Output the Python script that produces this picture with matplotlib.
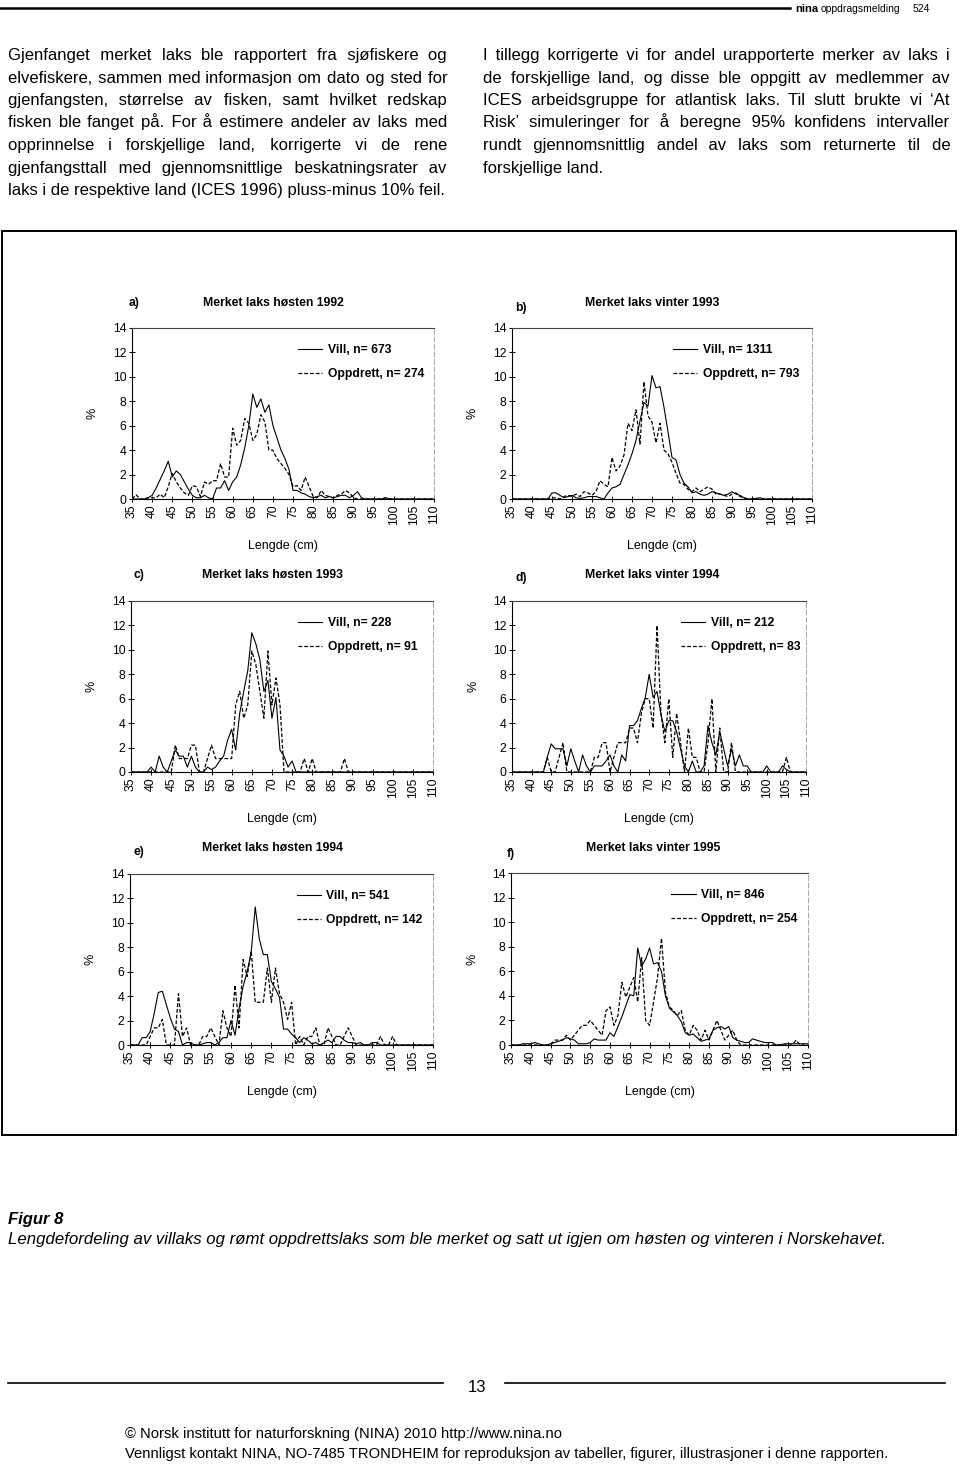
import matplotlib.pyplot as plt
import numpy as np
from matplotlib import font_manager
from matplotlib.ft2font import FT2Font
from matplotlib.patches import Rectangle
from matplotlib.lines import Line2D

plt.rcParams['font.family'] = 'Liberation Sans'

W, H = 960, 1465

# length classes (cm)
lengths = np.arange(35, 111)
xticks = np.arange(35, 111, 5)
yticks = np.arange(0, 15, 2)

# percentages per 1 cm class, rows = 35-44, 45-54, ... , 105-110
vill_a = [0, 0, 0, 0, 0.1, 0.3, 0.9, 1.6, 2.3, 3.1,
          1.8, 2.3, 2.0, 1.4, 0.8, 0.3, 0.1, 0.1, 0.3, 0.1,
          0.0, 0.9, 0.9, 1.5, 0.7, 1.4, 1.8, 2.8, 4.2, 6.0,
          8.6, 7.5, 8.2, 7.1, 7.7, 6.0, 5.0, 4.0, 3.3, 2.4,
          0.7, 0.7, 0.5, 0.4, 0.2, 0.1, 0.2, 0.3, 0.1, 0.2,
          0.1, 0.2, 0.3, 0.3, 0.1, 0.3, 0.6, 0.1, 0, 0,
          0, 0, 0, 0.1, 0, 0, 0, 0, 0, 0,
          0, 0, 0, 0, 0, 0]
oppd_a = [0, 0.35, 0, 0, 0.1, 0.1, 0.1, 0.4, 0.1, 1.0,
          2.1, 1.4, 0.9, 0.5, 0.3, 1.1, 1.0, 0.2, 1.4, 1.2,
          1.5, 1.5, 2.9, 1.8, 1.8, 5.8, 4.4, 4.8, 6.6, 6.2,
          4.8, 5.3, 6.9, 6.3, 4.0, 4.0, 3.3, 2.9, 2.5, 2.0,
          1.0, 1.1, 0.7, 1.8, 1.0, 0.2, 0.1, 0.7, 0.3, 0.2,
          0.1, 0.3, 0.4, 0.7, 0.5, 0.1, 0, 0, 0, 0,
          0, 0, 0, 0.1, 0, 0, 0, 0, 0, 0,
          0, 0, 0, 0, 0, 0]

vill_b = [0, 0, 0, 0, 0, 0, 0, 0, 0, 0,
          0.5, 0.5, 0.3, 0.1, 0.2, 0.3, 0.1, 0.05, 0.1, 0.2,
          0.2, 0.2, 0.1, 0.0, 0.5, 0.9, 1.0, 1.2, 2.0, 2.8,
          3.7, 4.8, 6.4, 7.9, 7.6, 10.1, 9.1, 9.2, 7.5, 5.5,
          3.4, 3.2, 2.0, 1.3, 1.0, 0.5, 0.6, 0.4, 0.3, 0.4,
          0.6, 0.5, 0.4, 0.3, 0.4, 0.6, 0.4, 0.3, 0.1, 0.0,
          0, 0.05, 0.1, 0, 0, 0, 0, 0, 0, 0,
          0, 0, 0, 0, 0, 0]
oppd_b = [0, 0, 0, 0, 0, 0, 0, 0, 0, 0,
          0.1, 0.1, 0, 0.2, 0.3, 0.2, 0.4, 0.2, 0.6, 0.5,
          0.3, 0.6, 1.5, 1.2, 1.0, 3.4, 2.3, 2.7, 3.6, 6.2,
          5.6, 7.3, 4.5, 9.6, 6.8, 6.3, 4.6, 6.2, 4.0, 3.7,
          3.0, 2.1, 1.3, 1.2, 0.8, 0.6, 0.9, 0.6, 0.8, 1.0,
          0.8, 0.4, 0.4, 0.3, 0.2, 0.4, 0.5, 0.2, 0.1, 0,
          0, 0, 0, 0, 0, 0, 0, 0, 0, 0,
          0, 0, 0, 0, 0, 0]

vill_c = [0, 0, 0, 0, 0, 0.4, 0, 1.3, 0.4, 0,
          0.9, 1.8, 1.3, 1.3, 0.4, 1.3, 0.4, 0, 0, 0.4,
          0.2, 0.4, 0.9, 1.3, 2.6, 3.5, 1.8, 4.8, 6.6, 8.3,
          11.4, 10.5, 9.2, 6.6, 7.5, 4.4, 6.1, 1.8, 1.3, 0.4,
          0.9, 0, 0, 0, 0, 0, 0, 0, 0, 0,
          0, 0, 0, 0, 0, 0, 0, 0, 0, 0,
          0, 0, 0, 0, 0, 0, 0, 0, 0, 0,
          0, 0, 0, 0, 0, 0]
oppd_c = [0, 0, 0, 0, 0, 0, 0, 0, 0, 0,
          0, 2.2, 1.1, 1.1, 1.1, 2.2, 2.2, 0, 0, 1.1,
          2.2, 1.1, 1.1, 1.1, 1.1, 1.1, 5.5, 6.6, 4.4, 5.5,
          9.9, 8.8, 6.6, 4.4, 9.9, 5.5, 7.7, 5.5, 0, 0,
          0, 0, 0, 1.1, 0, 1.1, 0, 0, 0, 0,
          0, 0, 0, 1.1, 0, 0, 0, 0, 0, 0,
          0, 0, 0, 0, 0, 0, 0, 0, 0, 0,
          0, 0, 0, 0, 0, 0]

vill_d = [0, 0, 0, 0, 0, 0, 0, 0, 0, 1.2,
          2.3, 1.9, 1.9, 1.9, 0.5, 1.9, 0.9, 0, 1.4, 0.5,
          0, 0.5, 0.5, 0.5, 0.9, 1.4, 0.5, 0, 1.4, 0.9,
          3.8, 3.8, 4.2, 5.2, 6.1, 8.0, 6.1, 6.6, 4.7, 3.3,
          4.2, 4.2, 3.3, 1.9, 0.5, 0, 0.9, 0, 0, 0.5,
          3.8, 2.4, 1.4, 3.3, 1.9, 0.5, 1.9, 0.5, 1.4, 0.5,
          0.5, 0, 0, 0, 0, 0.5, 0, 0, 0, 0.5,
          0.2, 0, 0, 0, 0, 0]
oppd_d = [0, 0, 0, 0, 0, 0, 0, 0, 0, 1.2,
          0, 0, 1.2, 2.4, 0, 0, 0, 0, 0, 0,
          0, 1.2, 1.2, 2.4, 2.4, 0, 1.2, 2.4, 2.4, 2.4,
          3.6, 3.6, 2.4, 4.8, 6.0, 6.0, 3.6, 12.0, 4.8, 2.4,
          6.0, 1.2, 4.8, 2.4, 0, 3.6, 1.2, 1.2, 0, 0,
          2.4, 6.0, 0, 3.6, 0, 0, 2.4, 0, 0, 0,
          0, 0, 0, 0, 0, 0, 0, 0, 0, 0,
          1.2, 0, 0, 0, 0, 0]

vill_e = [0, 0, 0, 0.6, 0.6, 1.1, 2.6, 4.3, 4.4, 3.3,
          2.2, 1.3, 1.1, 0, 0.2, 0.2, 0, 0, 0.1, 0.2,
          0.2, 0, 0.2, 0.6, 0.6, 2.0, 0.8, 3.0, 4.8, 6.0,
          7.6, 11.3, 8.7, 7.4, 7.4, 5.2, 4.6, 3.9, 1.3, 1.3,
          0.9, 0.6, 0.2, 0.6, 0.4, 0.1, 0.2, 0, 0.2, 0.4,
          0.2, 0.7, 0.7, 0.4, 0.2, 0.2, 0.1, 0.2, 0, 0,
          0.2, 0.2, 0, 0, 0, 0, 0, 0, 0, 0,
          0, 0, 0, 0, 0, 0]
oppd_e = [0, 0, 0, 0, 0, 0.7, 1.4, 1.4, 2.1, 0,
          0, 0, 4.2, 0.7, 1.4, 0, 0, 0, 0.7, 0.7,
          1.4, 0.7, 0, 2.8, 1.4, 0.7, 4.9, 1.4, 7.0, 5.6,
          7.7, 3.5, 3.5, 3.5, 6.3, 3.5, 6.3, 4.2, 3.5, 2.1,
          3.5, 0, 0.7, 0, 0.7, 0.7, 1.4, 0, 0, 1.4,
          0.7, 0, 0, 0.7, 1.4, 0.7, 0, 0, 0, 0,
          0, 0, 0.7, 0, 0, 0.7, 0, 0, 0, 0,
          0, 0, 0, 0, 0, 0]

vill_f = [0, 0, 0, 0.1, 0.1, 0.1, 0.2, 0.1, 0, 0,
          0.1, 0.2, 0.3, 0.4, 0.6, 0.5, 0.4, 0.1, 0.1, 0.1,
          0.2, 0.5, 0.4, 0.4, 0.4, 1.0, 0.7, 1.5, 2.3, 3.2,
          4.1, 4.0, 7.9, 6.4, 7.0, 7.9, 6.6, 6.7, 6.0, 4.0,
          3.0, 2.7, 2.4, 1.9, 1.0, 0.8, 0.9, 0.6, 0.3, 0.4,
          0.5, 1.2, 1.4, 1.5, 1.3, 1.5, 0.6, 0.4, 0.3, 0.2,
          0.2, 0.5, 0.4, 0.3, 0.2, 0.2, 0.2, 0, 0, 0.1,
          0.1, 0.1, 0.1, 0.1, 0.1, 0.1]
oppd_f = [0, 0, 0, 0, 0, 0, 0, 0, 0, 0,
          0, 0.4, 0.4, 0.4, 0.8, 0.4, 0.8, 1.2, 1.6, 1.6,
          2.0, 1.6, 1.2, 0.8, 2.8, 3.1, 1.6, 2.4, 5.1, 3.9,
          4.7, 5.5, 3.5, 7.1, 2.0, 1.6, 3.5, 5.5, 8.7, 4.3,
          3.1, 2.8, 2.4, 2.8, 1.2, 0.8, 1.6, 1.2, 0.4, 1.2,
          0.4, 1.2, 2.0, 1.2, 0.4, 0.8, 1.2, 0.4, 0, 0,
          0, 0, 0, 0, 0, 0, 0, 0, 0, 0,
          0, 0, 0.4, 0, 0, 0]

letters = ['a)', 'b)', 'c)', 'd)', 'e)', 'f)']
titles = ['Merket laks høsten 1992', 'Merket laks vinter 1993',
          'Merket laks høsten 1993', 'Merket laks vinter 1994',
          'Merket laks høsten 1994', 'Merket laks vinter 1995']
n_vill = [673, 1311, 228, 212, 541, 846]
n_oppd = [274, 793, 91, 83, 142, 254]
vill = [vill_a, vill_b, vill_c, vill_d, vill_e, vill_f]
oppd = [oppd_a, oppd_b, oppd_c, oppd_d, oppd_e, oppd_f]

left_text = [
    "Gjenfanget merket laks ble rapportert fra sjøfiskere og",
    "elvefiskere, sammen med informasjon om dato og sted for",
    "gjenfangsten, størrelse av fisken, samt hvilket redskap",
    "fisken ble fanget på. For å estimere andeler av laks med",
    "opprinnelse i forskjellige land, korrigerte vi de rene",
    "gjenfangsttall med gjennomsnittlige beskatningsrater av",
    "laks i de respektive land (ICES 1996) pluss-minus 10% feil.",
]
right_text = [
    "I tillegg korrigerte vi for andel urapporterte merker av laks i",
    "de forskjellige land, og disse ble oppgitt av medlemmer av",
    "ICES arbeidsgruppe for atlantisk laks. Til slutt brukte vi ‘At",
    "Risk’ simuleringer for å beregne 95% konfidens intervaller",
    "rundt gjennomsnittlig andel av laks som returnerte til de",
    "forskjellige land.",
]

# axes boxes in pixels: left, right, top, bottom
boxes = [(132, 434, 328, 499), (512, 812, 328, 499),
         (131, 433, 601, 772), (512, 806, 601, 772),
         (130, 433, 874, 1045), (511, 808, 873, 1045)]
letter_pos = [(129, 303), (515, 308), (133, 575), (515, 578), (134, 852), (507, 854)]
title_pos = [(273, 303), (652, 303), (273, 575), (652, 575), (272, 848), (653, 848)]
legend_x = [0.55, 0.537, 0.553, 0.575, 0.55, 0.54]


def fx(x):
    return x / W


def fy(y):
    return 1 - y / H


fig = plt.figure(figsize=(W / 100, H / 100), dpi=100)
r = fig.canvas.get_renderer()

# space characters the body font really has, for justified lines
ft = FT2Font(font_manager.findfont(font_manager.FontProperties(family='Liberation Sans')))
spaces = [' '] + [c for c in ['\u2009', '\u200a'] if ft.get_char_index(ord(c))]


def text_width(s, size):
    t = fig.text(0, 0, s, fontsize=size)
    w = t.get_window_extent(r).width
    t.remove()
    return w


def paragraph(lines, x0, x1, y0, dy, size):
    base = text_width('nn', size)
    sw = [text_width('n' + c + 'n', size) - base for c in spaces]
    for i, line in enumerate(lines):
        y = fy(y0 + i * dy)
        words = line.split()
        if i == len(lines) - 1:
            fig.text(fx(x0), y, line, fontsize=size, va='baseline')
            continue
        ws = [text_width(w, size) for w in words]
        gap = (x1 - x0 - sum(ws)) / (len(words) - 1)
        out = words[0]
        carry = 0.0
        for w in words[1:]:
            need = gap + carry
            fill = ''
            for k, (c, cw) in enumerate(zip(spaces, sw)):
                if k == len(spaces) - 1:
                    m = max(int(round(need / cw)), 0 if k else 1)
                else:
                    m = max(int(need // cw), 0 if k else 1)
                fill += c * m
                need -= m * cw
            carry = need
            out += fill + w
        fig.text(fx(x0), y, out, fontsize=size, va='baseline')


# header
fig.add_artist(Line2D([0, fx(790)], [fy(8), fy(8)], color='black', lw=1.8))
fig.text(fx(795), fy(12), 'nina', fontsize=8, fontweight='bold', va='baseline')
fig.text(fx(821), fy(12), 'oppdragsmelding', fontsize=7.5, va='baseline')
fig.text(fx(913), fy(12), '524', fontsize=7.5, va='baseline')

paragraph(left_text, 8, 447, 60, 22.5, 12)
paragraph(right_text, 483, 950, 60, 22.5, 12)

# frame round the figure
fig.add_artist(Rectangle((fx(2), fy(1135)), fx(954), (1135 - 231) / H,
                         fill=False, lw=1.4, ec='black'))

for i in range(6):
    L, R, T, B = boxes[i]
    ax = fig.add_axes([fx(L), fy(B), (R - L) / W, (B - T) / H])
    ax.plot(lengths, vill[i], color='black', lw=0.8,
            label=f'Vill, n= {n_vill[i]}')
    ax.plot(lengths, oppd[i], color='black', lw=0.9, linestyle=(0, (3, 1.6)),
            label=f'Oppdrett, n= {n_oppd[i]}')
    ax.set_xlim(35, 110)
    ax.set_ylim(0, 14)
    ax.set_xticks(xticks)
    ax.set_xticklabels([str(v) for v in xticks], rotation=90, fontsize=8.8)
    ax.set_yticks(yticks)
    ax.set_yticklabels([str(v) for v in yticks], fontsize=8.8)
    ax.tick_params(direction='inout', length=4, width=0.7, pad=2)
    for s in ['left', 'bottom']:
        ax.spines[s].set_linewidth(0.8)
    ax.spines['top'].set_color('#444444')
    ax.spines['top'].set_linewidth(0.8)
    ax.spines['right'].set_color('#999999')
    ax.spines['right'].set_linewidth(0.6)
    ax.spines['right'].set_linestyle((0, (6, 3)))
    ax.set_ylabel('%', fontsize=9)
    ax.yaxis.set_label_coords(-0.11, 0.5)
    ax.set_xlabel('Lengde (cm)', fontsize=9)
    ax.xaxis.set_label_coords(0.5, -0.24)
    ax.legend(loc='upper left', bbox_to_anchor=(legend_x[i], 0.905),
              frameon=False, handlelength=2.0, handletextpad=0.45,
              labelspacing=1.0, borderpad=0, borderaxespad=0,
              prop={'size': 8.7, 'weight': 'bold'})
    fig.text(fx(letter_pos[i][0]), fy(letter_pos[i][1]), letters[i],
             fontsize=8.8, fontweight='bold', va='center')
    fig.text(fx(title_pos[i][0]), fy(title_pos[i][1]), titles[i],
             fontsize=8.8, fontweight='bold', va='center', ha='center')

# caption
fig.text(fx(8), fy(1224), 'Figur 8', fontsize=12, fontweight='bold',
         fontstyle='italic', va='baseline')
fig.text(fx(8), fy(1244),
         'Lengdefordeling av villaks og rømt oppdrettslaks som ble merket og satt ut igjen '
         'om høsten og vinteren i Norskehavet.',
         fontsize=12.1, fontstyle='italic', va='baseline')

# page number
fig.add_artist(Line2D([fx(8), fx(443)], [fy(1383), fy(1383)], color='black', lw=1.2))
fig.add_artist(Line2D([fx(505), fx(945)], [fy(1383), fy(1383)], color='black', lw=1.2))
fig.text(fx(477), fy(1392), '13', fontsize=12, ha='center', va='baseline')

fig.text(fx(125), fy(1438), '© Norsk institutt for naturforskning (NINA) 2010 http://www.nina.no',
         fontsize=10.6, va='baseline')
fig.text(fx(125), fy(1458),
         'Vennligst kontakt NINA, NO-7485 TRONDHEIM for reproduksjon av tabeller, '
         'figurer, illustrasjoner i denne rapporten.',
         fontsize=10.6, va='baseline')

fig.savefig('out.png', dpi=100)
